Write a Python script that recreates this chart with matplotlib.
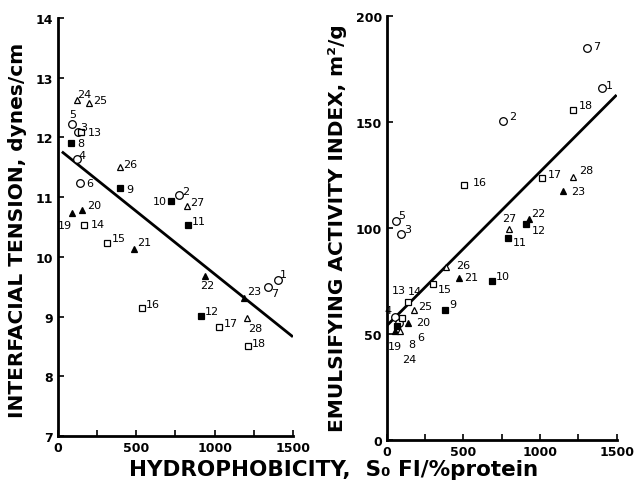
import numpy as np
import matplotlib
matplotlib.use('Agg')
import matplotlib.pyplot as plt

# Sample numbers 1-28; marker type depends on the sample group
samples = np.arange(1, 29)

# Surface hydrophobicity (S0) and interfacial tension, per sample
s0_tension = [1407, 771, 128, 119, 92, 143, 1342, 85, 399, 720,
              829, 912, 149, 169, 316, 534, 1028, 1213, 92, 156,
              483, 938, 1188, 122, 201, 393, 822, 1207]
tension = [9.61, 11.03, 12.09, 11.64, 12.23, 11.24, 9.49, 11.91, 11.16, 10.94,
           10.53, 9.01, 12.09, 10.53, 10.23, 9.14, 8.82, 8.51, 10.74, 10.78,
           10.13, 9.68, 9.31, 12.63, 12.58, 11.51, 10.85, 8.98]

# Surface hydrophobicity (S0) and emulsifying activity index, per sample
s0_eai = [1402, 760, 93, 54, 59, 80, 1304, 65, 382, 689,
          793, 906, 100, 141, 304, 504, 1015, 1217, 54, 141,
          474, 928, 1152, 87, 178, 387, 798, 1217]
eai = [165.9, 150.6, 97.0, 57.9, 103.2, 55.0, 184.9, 54.0, 61.3, 74.9,
       95.3, 101.9, 57.6, 65.2, 73.6, 120.4, 123.6, 155.8, 51.6, 55.0,
       76.3, 104.2, 117.6, 51.6, 61.5, 81.8, 99.5, 123.9]

# regression lines (end points)
fit_tension_x = [25, 1500]
fit_tension_y = [11.76, 8.66]
fit_eai_x = [0, 1500]
fit_eai_y = [53.9, 162.8]

# label offsets in pixels (dx, dy) for the sample numbers
off_tension = [(5, 6), (7, 4), (6, 5), (5, 4), (0, 10), (9, 0), (6, -6), (10, 0),
               (9, -1), (-11, 0), (11, 4), (11, 5), (14, 0), (13, 1), (11, 5),
               (11, 4), (12, 4), (11, 3), (-7, -12), (12, 5), (11, 7), (2, -9),
               (10, 7), (7, 6), (11, 3), (11, 3), (11, 4), (8, -10)]
off_eai = [(8, 3), (10, 5), (7, 5), (-7, 7), (6, 6), (22, -14), (10, 2), (15, -18),
           (8, 6), (11, 5), (12, -4), (13, -6), (-3, 28), (7, 11), (12, -5),
           (16, 3), (13, 4), (13, 5), (0, -15), (15, 1), (12, 1), (9, 6),
           (15, 0), (9, -28), (11, 4), (17, 2), (0, 11), (13, 7)]


def style_for(n):
    if n <= 7:
        return dict(marker='o', mfc='white', ms=5.5)
    if n <= 12:
        return dict(marker='s', mfc='black', ms=4.5)
    if n <= 18:
        return dict(marker='s', mfc='white', ms=4.5)
    if n <= 23:
        return dict(marker='^', mfc='black', ms=5)
    return dict(marker='^', mfc='white', ms=5)


def draw_panel(ax, xs, ys, offsets, fit_x, fit_y):
    ax.plot(fit_x, fit_y, color='black', lw=2.0, zorder=1, solid_capstyle='butt')
    for n, x, y, (dx, dy) in zip(samples, xs, ys, offsets):
        st = style_for(n)
        ax.plot(x, y, ls='none', mec='black', mew=0.9, zorder=3, clip_on=False, **st)
        ax.annotate(str(n), (x, y), xytext=(dx, dy), textcoords='offset pixels',
                    ha='center', va='center', fontsize=8, zorder=4)
    for side in ['top', 'right']:
        ax.spines[side].set_visible(False)
    for side in ['left', 'bottom']:
        ax.spines[side].set_linewidth(2.0)
    ax.tick_params(direction='in', length=4, width=1.2, labelsize=9)
    ax.set_xlim(0, 1500)
    ax.set_xticks([0, 250, 500, 750, 1000, 1250, 1500])
    ax.set_xticklabels(['0', '', '500', '', '1000', '', '1500'], fontweight='bold')


fig = plt.figure(figsize=(6.35, 4.85), dpi=100)

ax1 = fig.add_axes([0.0913, 0.099, 0.370, 0.862])
draw_panel(ax1, s0_tension, tension, off_tension, fit_tension_x, fit_tension_y)
ax1.set_ylim(7, 14)
ax1.set_yticks(range(7, 15))
for lab in ax1.get_yticklabels():
    lab.set_fontweight('bold')

ax2 = fig.add_axes([0.609, 0.0907, 0.362, 0.874])
draw_panel(ax2, s0_eai, eai, off_eai, fit_eai_x, fit_eai_y)
ax2.set_ylim(0, 200)
ax2.set_yticks([0, 50, 100, 150, 200])
for lab in ax2.get_yticklabels():
    lab.set_fontweight('bold')

fig.text(0.028, 0.525, 'INTERFACIAL TENSION, dynes/cm', rotation=90,
         ha='center', va='center', fontsize=14.5, fontweight='bold')
fig.text(0.531, 0.53, 'EMULSIFYING ACTIVITY INDEX, m²/g', rotation=90,
         ha='center', va='center', fontsize=14.5, fontweight='bold')
fig.text(0.525, 0.031, 'HYDROPHOBICITY,  S₀ FI/%protein',
         ha='center', va='center', fontsize=15.5, fontweight='bold')

fig.savefig('out.png', dpi=100)
